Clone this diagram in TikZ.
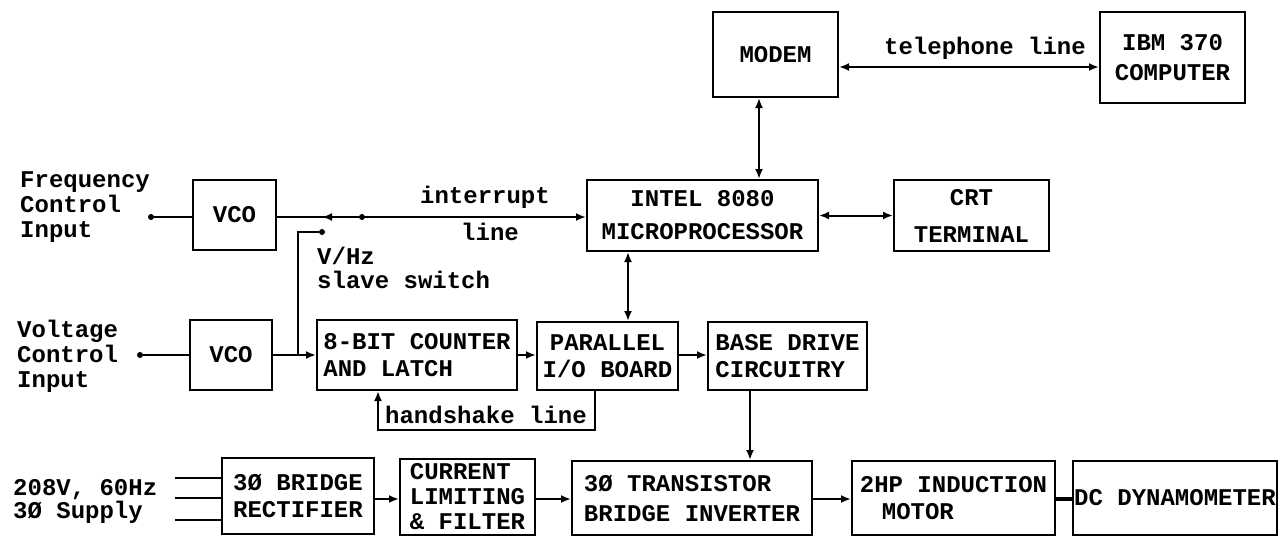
\documentclass[tikz,border=0pt]{standalone}
\usepackage{fontspec}
\newfontfamily\tw{Liberation Mono}
\usetikzlibrary{arrows.meta,calc}
\begin{document}
\begin{tikzpicture}[x=1pt,y=-1pt,
  lsp/.style={font=\tw\bfseries\fontsize{24}{#1}\selectfont},
  every node/.style={lsp=24, inner sep=0pt},
  box/.style={draw, line width=2pt, align=center},
  wire/.style={line width=2pt},
  arr/.style={wire,-{Latex[length=10pt,width=8pt]}},
  dbl/.style={wire,{Latex[length=10pt,width=8pt]}-{Latex[length=10pt,width=8pt]}},
  dot/.style={circle, fill, minimum size=6pt, inner sep=0pt}
]
\useasboundingbox (0,0) rectangle (1280,536);
\fill[white] (0,0) rectangle (1280,536);

% boxes
\node[box, minimum width=125, minimum height=85] (modem) at (775.5,54.5) {MODEM};
\node[box, minimum width=145, minimum height=91, lsp=30] (ibm) at (1172.5,57.5) {IBM 370\\COMPUTER};
\node[box, minimum width=231, minimum height=71, lsp=33] (micro) at (702.5,215.5) {INTEL 8080\\MICROPROCESSOR};
\node[box, minimum width=155, minimum height=71, lsp=37] (crt) at (971.5,215.5) {CRT\\TERMINAL};
\node[box, minimum width=83, minimum height=70] (vco1) at (234.5,215) {VCO};
\node[box, minimum width=82, minimum height=70] (vco2) at (231,355) {VCO};
\node[box, minimum width=200, minimum height=70, lsp=27, align=left] (counter) at (417,355) {8-BIT COUNTER\\AND LATCH};
\node[box, minimum width=141, minimum height=68, lsp=27] (par) at (607.5,356) {PARALLEL\\I/O BOARD};
\node[box, minimum width=159, minimum height=68, lsp=27, align=left] (base) at (787.5,356) {BASE DRIVE\\CIRCUITRY};
\node[box, minimum width=152, minimum height=76, lsp=27] (rect) at (298,496) {3Ø BRIDGE\\RECTIFIER};
\node[box, minimum width=135, minimum height=76, lsp=25, align=left] (curr) at (467.5,497) {CURRENT\\LIMITING\\\& FILTER};
\node[box, minimum width=240, minimum height=74, lsp=30, align=left] (inv) at (692,498) {3Ø TRANSISTOR\\BRIDGE INVERTER};
\node[box, minimum width=203, minimum height=74, lsp=27, align=left] (motor) at (953.5,498) {2HP INDUCTION\\\hspace*{22pt}MOTOR};
\node[box, minimum width=204, minimum height=74] (dyn) at (1175,498) {DC DYNAMOMETER};

% labels
\node[anchor=west, align=left, lsp=25] (freq) at (20,207) {Frequency\\Control\\Input};
\node[anchor=west, align=left, lsp=25] (volt) at (17,356) {Voltage\\Control\\Input};
\node[anchor=west, align=left, lsp=23] (supply) at (13,501) {208V, 60Hz\\3Ø Supply};
\node (tel) at (985,48) {telephone line};
\node (intr) at (485,197) {interrupt};
\node (intl) at (490,232) {line};
\node[anchor=west, align=left, lsp=24] (vhz) at (317,268) {V/Hz\\slave switch};
\node (hs) at (486,415) {handshake line};

% dots and coordinates
\node[dot] (fin) at (151,217) {};
\node[dot] (vin) at (140,355) {};
\node[dot] (piv) at (362,217) {};
\node[dot] (cont) at (322,232) {};
\coordinate (swt) at (322,217);
\coordinate (cr) at (298,232);
\coordinate (jn) at (298,355);
\coordinate (h1) at (595,430);
\coordinate (h2) at (378,430);
\coordinate (pv) at (628,0);
\coordinate (mv) at (759,0);
\coordinate (bv) at (750,0);
\coordinate (tl) at (0,67);
\coordinate (s1) at (175,478);
\coordinate (s2) at (175,498);
\coordinate (s3) at (175,520);
\coordinate (by) at (0,499);

% connectors
\draw[dbl] (modem.east |- tl) -- (ibm.west |- tl);
\draw[dbl] (modem.south -| mv) -- (micro.north -| mv);
\draw[dbl] (micro.east) -- (crt.west);
\draw[wire] (fin) -- (vco1.west |- fin);
\draw[arr] (vco1.east |- fin) -- (micro.west |- fin);
\draw[arr] (piv) -- (swt);
\draw[wire] (cont) -- (cr) -- (jn);
\draw[wire] (vin) -- (vco2.west);
\draw[arr] (vco2.east) -- (counter.west);
\draw[arr] (counter.east) -- (par.west |- counter.east);
\draw[arr] (par.east |- counter.east) -- (base.west |- counter.east);
\draw[dbl] (micro.south -| pv) -- (par.north -| pv);
\draw[arr] (par.south -| h1) -- (h1) -- (h2) -- (counter.south -| h2);
\draw[arr] (base.south -| bv) -- (inv.north -| bv);
\draw[wire] (s1) -- (rect.west |- s1);
\draw[wire] (s2) -- (rect.west |- s2);
\draw[wire] (s3) -- (rect.west |- s3);
\draw[arr] (rect.east |- by) -- (curr.west |- by);
\draw[arr] (curr.east |- by) -- (inv.west |- by);
\draw[arr] (inv.east |- by) -- (motor.west |- by);
\draw[line width=4pt] (motor.east |- by) -- (dyn.west |- by);
\end{tikzpicture}
\end{document}
